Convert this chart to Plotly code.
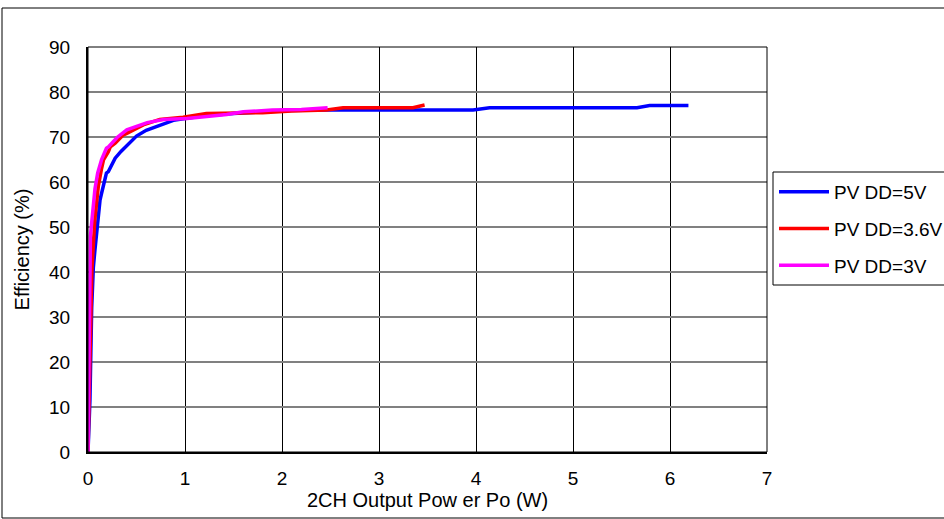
import plotly.graph_objects as go

# PVDD = 5V
blue_x = [0.0, 0.01, 0.02, 0.038, 0.055, 0.072, 0.09, 0.106, 0.124, 0.14, 0.19, 0.21, 0.28,
          0.34, 0.43, 0.5, 0.6, 0.74, 0.88, 1.0, 1.2, 1.5, 1.8, 2.0, 2.46, 3.0, 3.5, 3.97,
          4.14, 4.5, 5.0, 5.66, 5.79, 6.19]
blue_y = [0, 5, 11.5, 32, 41, 45, 49.3, 53, 56, 57.5, 62, 62.3, 65.3,
          66.8, 68.6, 70.2, 71.5, 72.5, 73.7, 74.1, 74.7, 75.2, 75.6, 75.9, 76.0, 76.0, 76.0, 76.0,
          76.5, 76.5, 76.5, 76.5, 77.0, 77.0]

# PVDD = 3.6V
red_x = [0.0, 0.01, 0.02, 0.04, 0.07, 0.09, 0.106, 0.14, 0.16, 0.21, 0.23, 0.28, 0.36, 0.4,
         0.57, 0.74, 0.98, 1.22, 1.5, 1.8, 2.1, 2.46, 2.63, 3.0, 3.35, 3.47]
red_y = [0, 12, 25.6, 40.4, 51.5, 56, 59, 63, 64.9, 66.7, 67.8, 68.6, 70.4, 70.8,
         72.7, 73.9, 74.4, 75.2, 75.3, 75.4, 75.8, 76.0, 76.5, 76.5, 76.5, 77.1]

# PVDD = 3V
mag_x = [0.0, 0.005, 0.01, 0.014, 0.025, 0.038, 0.055, 0.072, 0.1, 0.124, 0.14, 0.19, 0.21,
         0.3, 0.4, 0.61, 0.78, 1.02, 1.2, 1.43, 1.6, 1.9, 2.2, 2.47]
mag_y = [0, 10, 25, 44, 48, 51, 55, 58.5, 62, 64.2, 65, 67.5, 67.8,
         69.9, 71.6, 73.2, 73.9, 74.1, 74.5, 75.0, 75.6, 76.0, 76.1, 76.5]

series_names = ["PV DD=5V", "PV DD=3.6V", "PV DD=3V"]
series_colors = ["#0000FF", "#FF0000", "#FF00FF"]

x_ticks = [0, 1, 2, 3, 4, 5, 6, 7]
y_ticks = [0, 10, 20, 30, 40, 50, 60, 70, 80, 90]

FONT = "Liberation Sans, Arial, sans-serif"

# pixel geometry helpers (plot area: x 88..767, y 47..452)
PL, PR, PT, PB = 88, 767, 47, 452
def px(xp):
    return (xp - PL) / (PR - PL)
def py(yp):
    return (PB - yp) / (PB - PT)

fig = go.Figure()
for i, (xs, ys, name, col) in enumerate(zip([blue_x, red_x, mag_x], [blue_y, red_y, mag_y],
                                            series_names, series_colors)):
    fig.add_trace(go.Scatter(x=xs, y=ys, mode="lines", name=name, legendgroup=f"g{i}",
                             line=dict(color=col, width=3.5)))

fig.update_layout(
    width=944, height=519,
    margin=dict(l=PL, r=944 - PR, t=PT, b=519 - PB, autoexpand=False),
    paper_bgcolor="white", plot_bgcolor="white",
    font=dict(family=FONT, color="black", size=19),
    showlegend=True,
    legend=dict(x=px(774), y=py(173), xanchor="left", yanchor="top",
                borderwidth=0, bgcolor="rgba(0,0,0,0)",
                font=dict(size=19, family=FONT), itemwidth=50,
                tracegroupgap=9),
    xaxis=dict(range=[0, 7], tickvals=x_ticks, ticktext=[str(v) for v in x_ticks],
               showgrid=True, gridcolor="black", gridwidth=1,
               showline=True, linecolor="black", linewidth=2,
               ticks="", ticklabelstandoff=8, zeroline=False,
               tickfont=dict(size=19),
               title=dict(text="2CH Output Pow er Po (W)", standoff=0,
                          font=dict(size=20))),
    yaxis=dict(range=[0, 90], tickvals=y_ticks, ticktext=[str(v) for v in y_ticks],
               showgrid=True, gridcolor="#808080", gridwidth=1.5,
               showline=True, linecolor="black", linewidth=2,
               ticks="", ticklabelstandoff=12, zeroline=False,
               tickfont=dict(size=19),
               title=dict(text="Efficiency (%)", standoff=14,
                          font=dict(size=20))),
)

# plot area frame (top and right edges)
fig.add_shape(type="rect", xref="paper", yref="paper", x0=0, x1=1, y0=0, y1=1,
              line=dict(color="black", width=1), layer="above")
# outer chart border (right edge lies beyond the visible page)
fig.add_shape(type="rect", xref="paper", yref="paper",
              x0=px(2), x1=px(960), y0=py(518), y1=py(8),
              line=dict(color="black", width=1), layer="below")
# legend frame (extends past right edge)
fig.add_shape(type="rect", xref="paper", yref="paper",
              x0=px(773), x1=px(960), y0=py(285), y1=py(172),
              line=dict(color="black", width=1), fillcolor="white", layer="below")

fig.write_html("out.html")
